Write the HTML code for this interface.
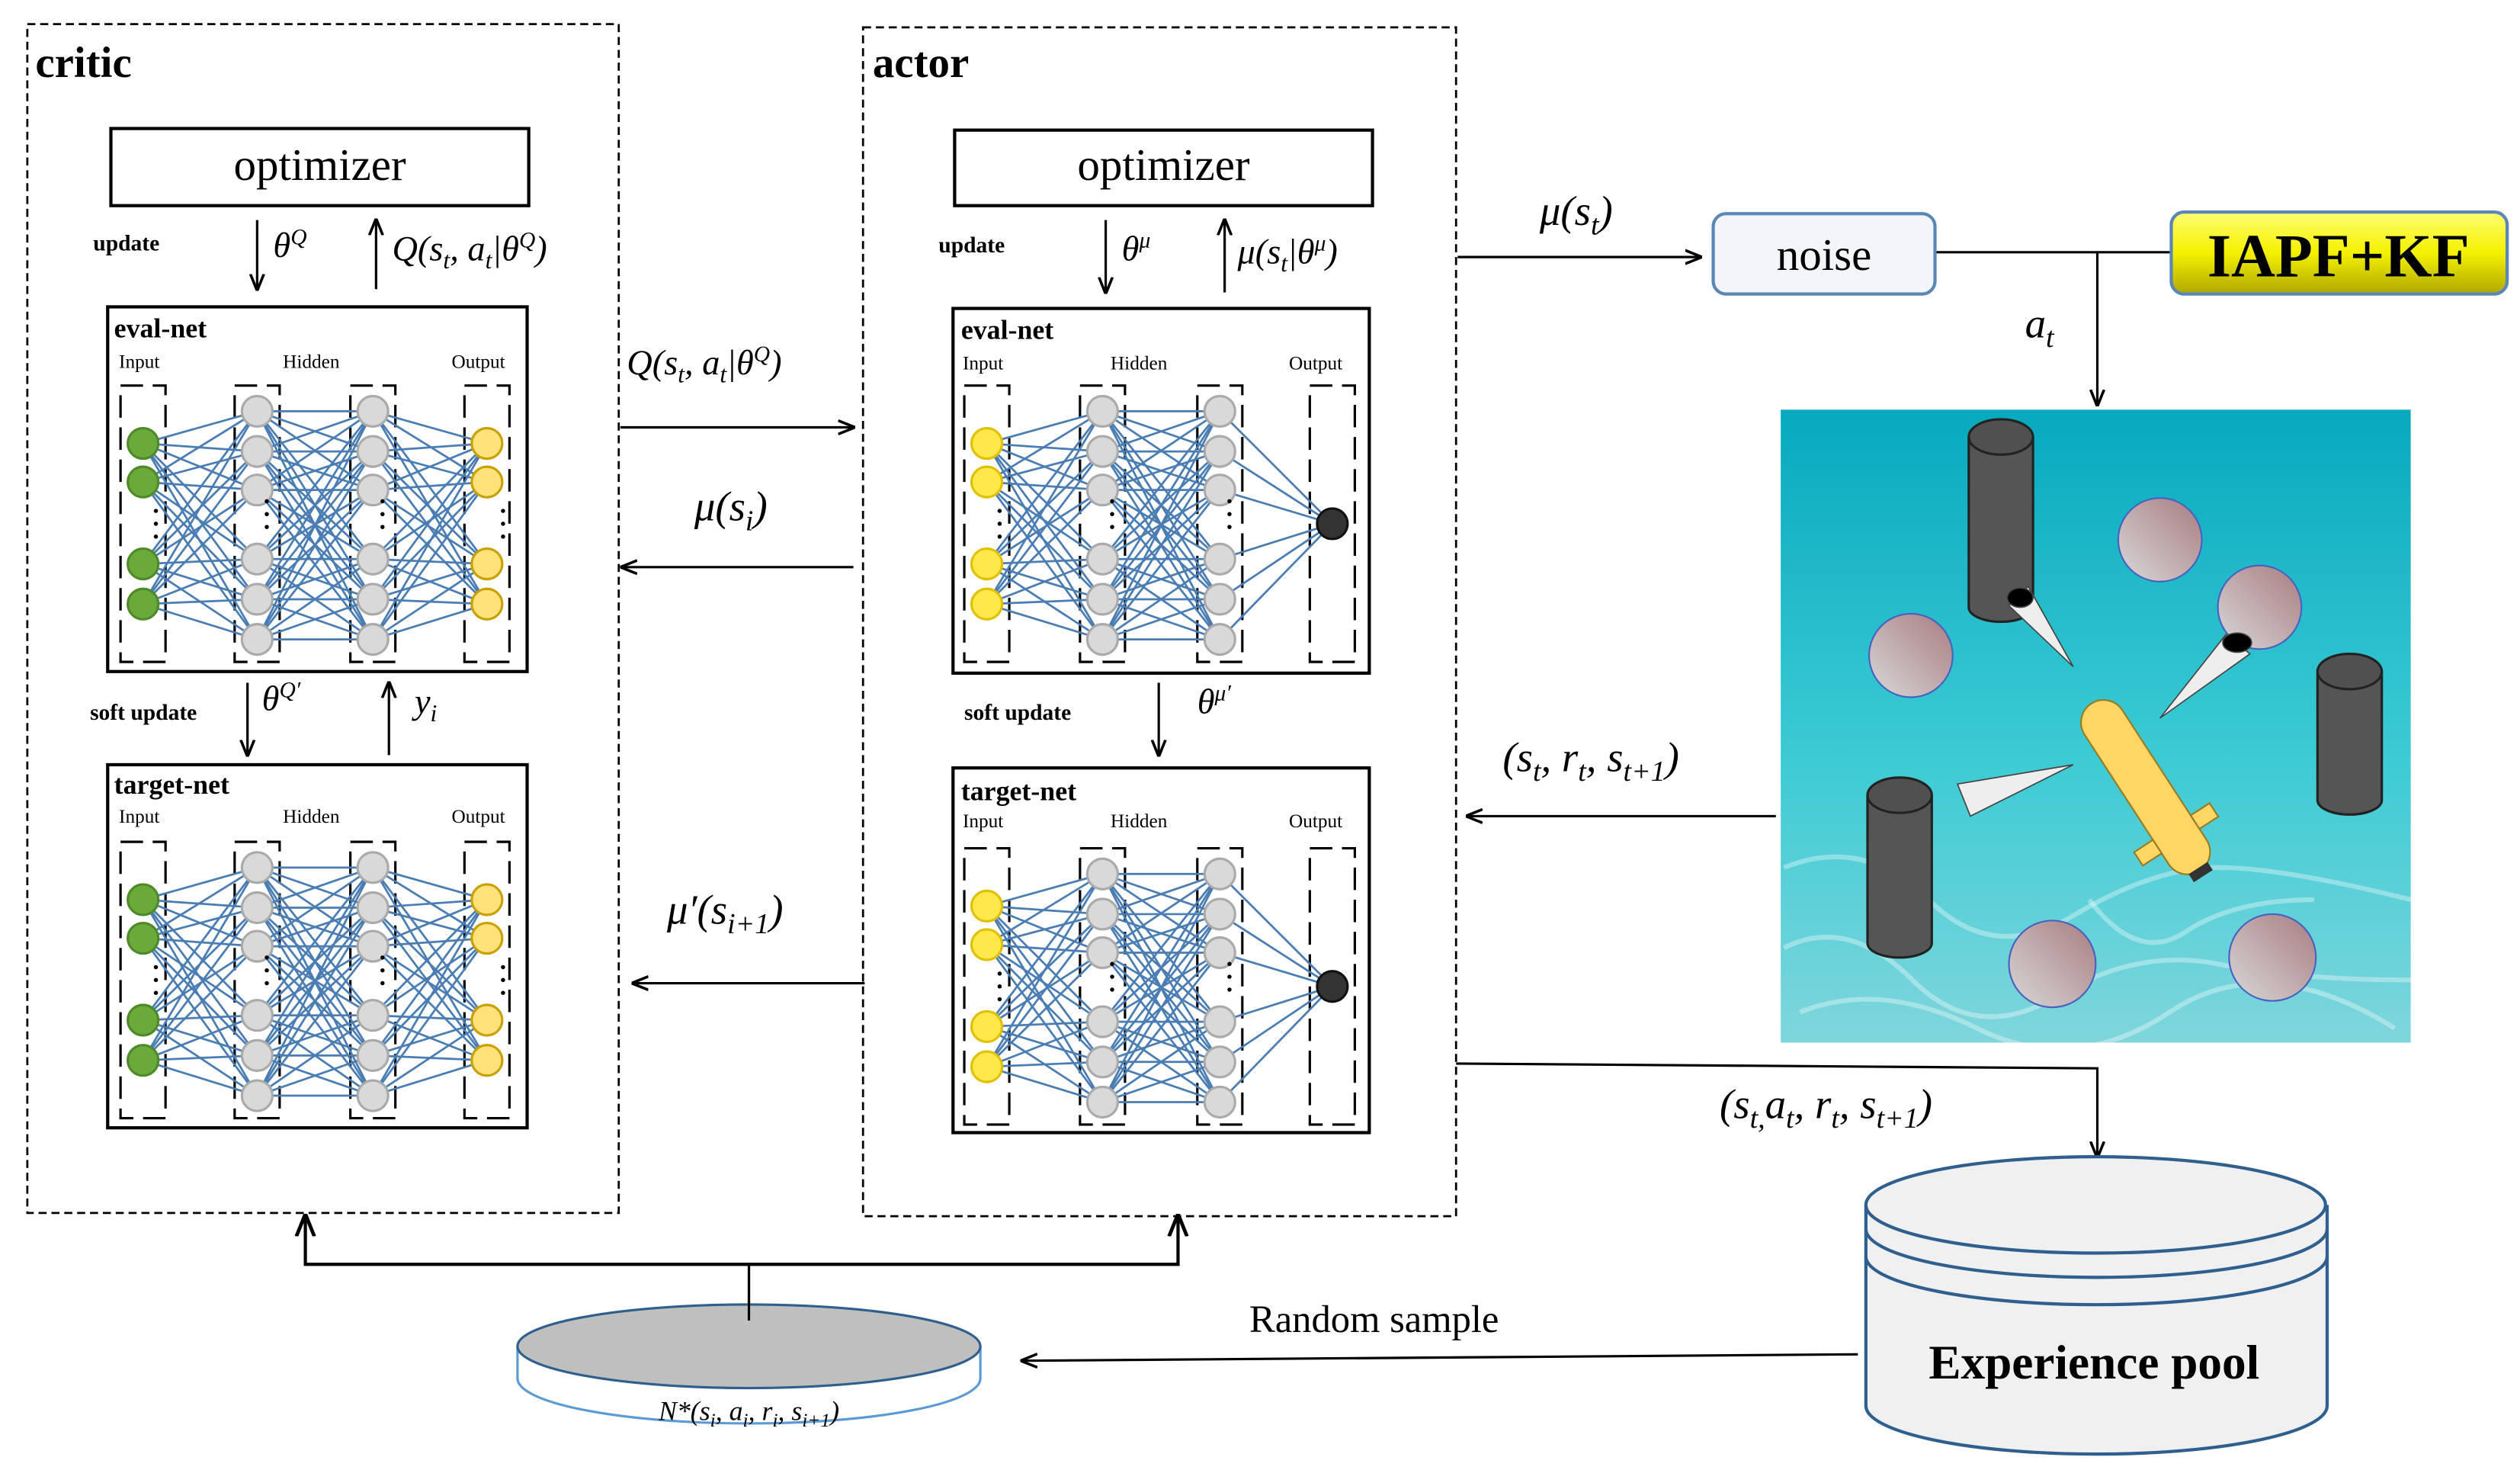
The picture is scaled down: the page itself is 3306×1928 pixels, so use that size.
<!DOCTYPE html>
<html><head><meta charset="utf-8"><style>
html,body{margin:0;padding:0;background:#fff;}
svg{display:block;}
.t{font-family:"Liberation Serif",serif;}
.m{font-family:"Liberation Serif",serif;font-style:italic;}
</style></head><body>
<svg id="s" width="3306" height="1928" viewBox="0 0 1568 915" preserveAspectRatio="none" xmlns="http://www.w3.org/2000/svg">
<defs>
<marker id="ar" viewBox="0 0 10 10" refX="9" refY="5" markerWidth="7" markerHeight="7" orient="auto-start-reverse"><path d="M0,1 L10,5 L0,9" fill="none" stroke="#000" stroke-width="1.6"/></marker>
<linearGradient id="yel" x1="0" y1="0" x2="0" y2="1"><stop offset="0" stop-color="#ffff70"/><stop offset="0.5" stop-color="#f4f000"/><stop offset="1" stop-color="#b0a800"/></linearGradient>
<linearGradient id="sea" x1="0" y1="0" x2="0" y2="1"><stop offset="0" stop-color="#07a9bf"/><stop offset="0.55" stop-color="#3ccbd4"/><stop offset="1" stop-color="#7fd6dc"/></linearGradient>
<linearGradient id="ball" x1="0" y1="1" x2="1" y2="0"><stop offset="0" stop-color="#d8d8d8"/><stop offset="1" stop-color="#a87c80"/></linearGradient>
</defs>
<g fill="none" stroke="#000">
<rect x="17" y="15" width="368" height="740" stroke-dasharray="5,3" stroke-width="1.3"/>
<rect x="537" y="17" width="369" height="740" stroke-dasharray="5,3" stroke-width="1.3"/>
<rect x="69" y="80" width="260" height="48" stroke-width="2"/>
<rect x="594" y="81" width="260" height="47" stroke-width="2"/>
<rect x="67" y="191" width="261" height="227" stroke-width="2"/>
<rect x="67" y="476" width="261" height="226" stroke-width="2"/>
<rect x="593" y="192" width="259" height="227" stroke-width="2"/>
<rect x="593" y="478" width="259" height="227" stroke-width="2"/>
</g>
<g id="nets"></g>
<g class="t" font-family="Liberation Serif, serif" font-weight="bold">
<text x="22" y="48" font-size="27">critic</text>
<text x="543" y="48" font-size="27">actor</text>
<text x="58" y="156" font-size="14">update</text>
<text x="584" y="157" font-size="14">update</text>
<text x="56" y="448" font-size="14">soft update</text>
<text x="600" y="448" font-size="14">soft update</text>
<text x="71" y="210" font-size="17">eval-net</text>
<text x="71" y="494" font-size="17">target-net</text>
<text x="598" y="211" font-size="17">eval-net</text>
<text x="598" y="498" font-size="17">target-net</text>
</g>
<g class="t" font-family="Liberation Serif, serif" font-size="28" text-anchor="middle">
<text x="199" y="112">optimizer</text>
<text x="724" y="112">optimizer</text>
</g>
<g class="t" font-family="Liberation Serif, serif" font-size="12">
<text x="74" y="229">Input</text><text x="176" y="229">Hidden</text><text x="281" y="229">Output</text>
<text x="74" y="512">Input</text><text x="176" y="512">Hidden</text><text x="281" y="512">Output</text>
<text x="599" y="230">Input</text><text x="691" y="230">Hidden</text><text x="802" y="230">Output</text>
<text x="599" y="515">Input</text><text x="691" y="515">Hidden</text><text x="802" y="515">Output</text>
</g>
<g stroke="#000" stroke-width="1.5" fill="none">
<line x1="160" y1="137" x2="160" y2="180" marker-end="url(#ar)"/>
<line x1="234" y1="180" x2="234" y2="137" marker-end="url(#ar)"/>
<line x1="154" y1="425" x2="154" y2="470" marker-end="url(#ar)"/>
<line x1="242" y1="470" x2="242" y2="425" marker-end="url(#ar)"/>
<line x1="688" y1="137" x2="688" y2="182" marker-end="url(#ar)"/>
<line x1="762" y1="182" x2="762" y2="137" marker-end="url(#ar)"/>
<line x1="721" y1="425" x2="721" y2="470" marker-end="url(#ar)"/>
<line x1="386" y1="266" x2="531" y2="266" marker-end="url(#ar)"/>
<line x1="531" y1="353" x2="387" y2="353" marker-end="url(#ar)"/>
<line x1="538" y1="612" x2="394" y2="612" marker-end="url(#ar)"/>
<line x1="907" y1="160" x2="1058" y2="160" marker-end="url(#ar)"/>
<line x1="1204" y1="157" x2="1352" y2="157"/>
<line x1="1305" y1="157" x2="1305" y2="252" marker-end="url(#ar)"/>
<line x1="1105" y1="508" x2="913" y2="508" marker-end="url(#ar)"/>
<polyline points="906,662 1305,665 1305,720" marker-end="url(#ar)"/>
<line x1="1156" y1="843" x2="636" y2="847" marker-end="url(#ar)"/>
<line x1="466" y1="822" x2="466" y2="787"/>
<polyline points="190,757 190,787 733,787 733,757" marker-start="url(#ar)" marker-end="url(#ar)" stroke-width="2"/>
</g>
<g class="m" font-family="Liberation Serif, serif" font-style="italic" font-size="22">
<text x="170" y="160">θ<tspan dy="-8" font-size="14">Q</tspan></text>
<text x="244" y="162">Q(s<tspan dy="5" font-size="15">t</tspan><tspan dy="-5">, a</tspan><tspan dy="5" font-size="15">t</tspan><tspan dy="-5">|θ</tspan><tspan dy="-8" font-size="14">Q</tspan><tspan dy="8">)</tspan></text>
<text x="163" y="442">θ<tspan dy="-8" font-size="14">Q′</tspan></text>
<text x="258" y="444">y<tspan dy="5" font-size="15">i</tspan></text>
<text x="698" y="162">θ<tspan dy="-8" font-size="14">μ</tspan></text>
<text x="770" y="164">μ(s<tspan dy="5" font-size="15">t</tspan><tspan dy="-5">|θ</tspan><tspan dy="-8" font-size="14">μ</tspan><tspan dy="8">)</tspan></text>
<text x="745" y="444">θ<tspan dy="-8" font-size="14">μ′</tspan></text>
<text x="390" y="233">Q(s<tspan dy="5" font-size="15">t</tspan><tspan dy="-5">, a</tspan><tspan dy="5" font-size="15">t</tspan><tspan dy="-5">|θ</tspan><tspan dy="-8" font-size="14">Q</tspan><tspan dy="8">)</tspan></text>
<text x="432" y="324" font-size="26">μ(s<tspan dy="6" font-size="18">i</tspan><tspan dy="-6">)</tspan></text>
<text x="415" y="575" font-size="26">μ′(s<tspan dy="6" font-size="18">i+1</tspan><tspan dy="-6">)</tspan></text>
<text x="958" y="140" font-size="26">μ(s<tspan dy="6" font-size="18">t</tspan><tspan dy="-6">)</tspan></text>
<text x="1260" y="210" font-size="26">a<tspan dy="6" font-size="18">t</tspan></text>
<text x="935" y="480" font-size="26">(s<tspan dy="6" font-size="18">t</tspan><tspan dy="-6">, r</tspan><tspan dy="6" font-size="18">t</tspan><tspan dy="-6">, s</tspan><tspan dy="6" font-size="18">t+1</tspan><tspan dy="-6">)</tspan></text>
<text x="1070" y="696" font-size="26">(s<tspan dy="6" font-size="18">t,</tspan><tspan dy="-6">a</tspan><tspan dy="6" font-size="18">t</tspan><tspan dy="-6">, r</tspan><tspan dy="6" font-size="18">t</tspan><tspan dy="-6">, s</tspan><tspan dy="6" font-size="18">t+1</tspan><tspan dy="-6">)</tspan></text>
</g>
<rect x="1066" y="133" width="138" height="50" rx="8" fill="#f3f5f8" stroke="#5b86b8" stroke-width="2"/>
<text class="t" font-family="Liberation Serif, serif" x="1135" y="168" font-size="28" text-anchor="middle">noise</text>
<rect x="1351" y="132" width="209" height="51" rx="8" fill="url(#yel)" stroke="#5b86b8" stroke-width="2"/>
<text class="t" font-family="Liberation Serif, serif" x="1455" y="172" font-size="38" font-weight="bold" text-anchor="middle">IAPF+KF</text>
<rect x="1108" y="255" width="392" height="394" fill="url(#sea)"/>
<g stroke="#ffffff" stroke-opacity="0.35" stroke-width="3" fill="none">
<path d="M1110,540 Q1160,520 1200,560 T1290,570 T1380,540 T1500,560"/>
<path d="M1110,590 Q1150,570 1190,610 T1280,620 T1380,600 T1500,610"/>
<path d="M1120,630 Q1170,610 1230,640 T1350,630 T1490,640"/>
<path d="M1300,560 Q1330,600 1360,580 T1440,560"/>
</g>
<g stroke="#222" stroke-width="1.5">
<path d="M1225,272 v106 a20,9 0 0 0 40,0 v-106" fill="#555"/><ellipse cx="1245" cy="272" rx="20" ry="11" fill="#505050"/>
<path d="M1442,418 v80 a20,9 0 0 0 40,0 v-80" fill="#555"/><ellipse cx="1462" cy="418" rx="20" ry="11" fill="#505050"/>
<path d="M1162,495 v92 a20,9 0 0 0 40,0 v-92" fill="#555"/><ellipse cx="1182" cy="495" rx="20" ry="11" fill="#505050"/>
</g>
<g fill="url(#ball)" stroke="#4a5fc0" stroke-width="1">
<circle cx="1344" cy="336" r="26"/><circle cx="1406" cy="378" r="26"/><circle cx="1189" cy="408" r="26"/>
<circle cx="1277" cy="600" r="27"/><circle cx="1414" cy="596" r="27"/>
</g>
<g fill="#eee" stroke="#444" stroke-width="0.8">
<path d="M1250,377 L1262,365 L1290,415 Z"/><ellipse cx="1257" cy="372" rx="8" ry="6" fill="#000"/>
<path d="M1385,395 L1400,407 L1344,447 Z"/><ellipse cx="1392" cy="400" rx="9" ry="6" fill="#000"/>
<path d="M1218,488 L1226,508 L1290,476 Z"/>
</g>
<g transform="translate(1335,490) rotate(-33)">
<rect x="-14" y="-62" width="28" height="124" rx="14" fill="#fdd663" stroke="#9a7a20" stroke-width="1"/>
<rect x="14" y="30" width="14" height="10" fill="#fdd663" stroke="#9a7a20"/>
<rect x="-28" y="30" width="14" height="10" fill="#fdd663" stroke="#9a7a20"/>
<rect x="-7" y="60" width="14" height="6" fill="#333"/>
</g>
<g stroke="#2f5f8f" stroke-width="2" fill="#f0f0f0">
<path d="M1161,750 V875 A143,30 0 0 0 1448,875 V750"/>
<ellipse cx="1304" cy="750" rx="143" ry="30"/>
<path d="M1161,765 A143,30 0 0 0 1448,765" fill="none"/>
<path d="M1161,782 A143,30 0 0 0 1448,782" fill="none"/>
</g>
<text class="t" font-family="Liberation Serif, serif" x="1303" y="858" font-size="30" font-weight="bold" text-anchor="middle">Experience pool</text>
<text class="t" font-family="Liberation Serif, serif" x="855" y="829" font-size="24" text-anchor="middle">Random sample</text>
<path d="M322,838 V858 A144,28 0 0 0 610,858 V838" fill="#fff" stroke="#5b9bd5" stroke-width="1.5"/>
<ellipse cx="466" cy="838" rx="144" ry="26" fill="#bfbfbf" stroke="#2f5f8f" stroke-width="1.5"/>
<line x1="466" y1="822" x2="466" y2="787" stroke="#000" stroke-width="1.5"/>
<text class="m" font-family="Liberation Serif, serif" font-style="italic" x="466" y="884" font-size="17" text-anchor="middle">N*(s<tspan dy="4" font-size="12">i</tspan><tspan dy="-4">, a</tspan><tspan dy="4" font-size="12">i</tspan><tspan dy="-4">, r</tspan><tspan dy="4" font-size="12">i</tspan><tspan dy="-4">, s</tspan><tspan dy="4" font-size="12">i+1</tspan><tspan dy="-4">)</tspan></text>
</svg>
<script>
(function(){
var g=document.getElementById('nets'),NS='http://www.w3.org/2000/svg';
function el(n,a){var e=document.createElementNS(NS,n);for(var k in a)e.setAttribute(k,a[k]);g.appendChild(e);return e;}
function net(ox,oy,xs,inCol,outCol,single){
 var io=[36,60,111,136],hid=[16,41,65,108,133,158];
 var cols=[io,hid,hid,single?[86]:io];
 for(var c=0;c<4;c++){el('rect',{x:xs[c]-14,y:oy,width:28,height:172,fill:'none',stroke:'#000','stroke-width':1.5,'stroke-dasharray':'14,6'});}
 for(var c=0;c<3;c++){var a=cols[c],b=cols[c+1];
  for(var i=0;i<a.length;i++)for(var j=0;j<b.length;j++)
   el('line',{x1:xs[c],y1:oy+a[i],x2:xs[c+1],y2:oy+b[j],stroke:'#4a7db3','stroke-width':1.3});}
 var fills=[inCol,'#d9d9d9','#d9d9d9',outCol],strokes=[inCol=='#6aaa3a'?'#4f8a2a':'#e0c000','#aaa','#aaa',outCol=='#333'?'#111':'#c9a000'];
 for(var c=0;c<4;c++)for(var i=0;i<cols[c].length;i++)
  el('circle',{cx:xs[c],cy:oy+cols[c][i],r:9.5,fill:fills[c],stroke:strokes[c],'stroke-width':1.5});
 for(var c=0;c<4;c++){if(single&&c==3)continue;var ys=[78,86,94];
  for(var k=0;k<3;k++)el('circle',{cx:xs[c]+(c==0?8:c==3?10:6),cy:oy+ys[k]-(c==1||c==2?6:0),r:1.3,fill:'#000'});}
}
net(67,240,[89,160,232,303],'#6aaa3a','#ffe27a',false);
net(67,524,[89,160,232,303],'#6aaa3a','#ffe27a',false);
net(593,240,[614,686,759,829],'#ffe94a','#333',true);
net(593,528,[614,686,759,829],'#ffe94a','#333',true);
})();
</script>
</body></html>
